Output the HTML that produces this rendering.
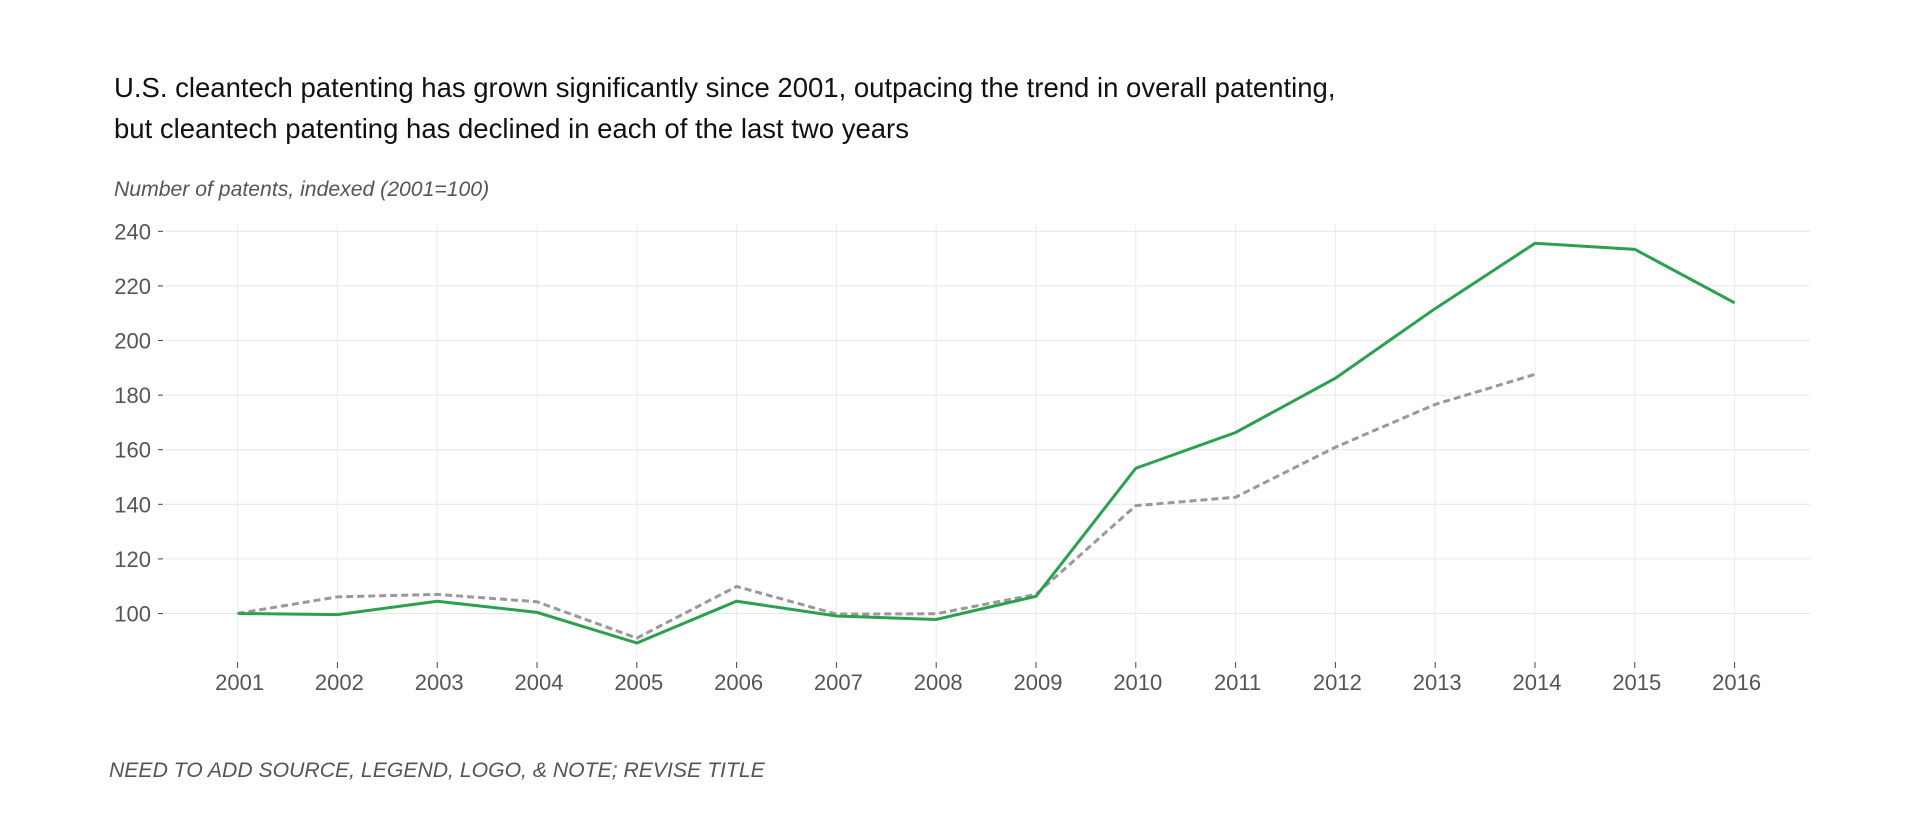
<!DOCTYPE html>
<html><head><meta charset="utf-8"><style>
body{margin:0;background:#fff;width:1920px;height:810px;overflow:hidden;font-family:"Liberation Sans",sans-serif}
</style></head><body>
<svg width="1920" height="810" font-family="Liberation Sans, sans-serif">
<text x="114" y="97" font-size="27.5" fill="#111">U.S. cleantech patenting has grown significantly since 2001, outpacing the trend in overall patenting,</text>
<text x="114" y="138" font-size="27.5" fill="#111">but cleantech patenting has declined in each of the last two years</text>
<text x="114" y="196" font-size="21.2" font-style="italic" fill="#555">Number of patents, indexed (2001=100)</text>
<g id="grid"></g><g id="axes"></g><g id="lines"></g>
<text x="109" y="777" font-size="21.2" font-style="italic" fill="#555">NEED TO ADD SOURCE, LEGEND, LOGO, &amp; NOTE; REVISE TITLE</text>
</svg>
<script>
const years=[2001,2002,2003,2004,2005,2006,2007,2008,2009,2010,2011,2012,2013,2014,2015,2016];
const cleantech=[100,99.6,104.5,100.4,89.2,104.5,99.1,97.8,106.3,153.2,166.3,186.2,211.7,235.6,233.4,213.8];
const overall=[100,106.1,107,104.3,91,109.9,99.8,99.9,107,139.5,142.6,160.9,176.6,187.6];
const yTicks=[100,120,140,160,180,200,220,240];
const NS='http://www.w3.org/2000/svg';
const x=yr=>237.6+(yr-2001)*99.8;
const y=v=>613.5-(v-100)*2.73;
function mk(tag,attrs,parent,txt){const e=document.createElementNS(NS,tag);for(const k in attrs)e.setAttribute(k,attrs[k]);if(txt!==undefined)e.textContent=txt;document.getElementById(parent).appendChild(e);return e;}
yTicks.forEach(t=>{
 const g=mk('line',{x1:165,x2:1810,y1:y(t),y2:y(t),stroke:'#e6e6e6','stroke-width':1},'grid');
 
 
 const tk=mk('line',{x1:158,x2:163,y1:y(t),y2:y(t),stroke:'#444','stroke-width':1},'axes');
 
 
 const l=mk('text',{x:151,y:y(t)+8,'text-anchor':'end','font-size':22,fill:'#555'},'axes',t);
 
 
});
years.forEach(yr=>{
 const g=mk('line',{x1:x(yr),x2:x(yr),y1:224,y2:658,stroke:'#ececec','stroke-width':1},'grid');
 
 
 const tk=mk('line',{x1:x(yr),x2:x(yr),y1:662,y2:668,stroke:'#444','stroke-width':1},'axes');
 
 
 const l=mk('text',{x:x(yr)+2,y:690,'text-anchor':'middle','font-size':22,fill:'#555'},'axes',yr);
 
 
});
const p2=overall.map((v,i)=>x(years[i])+','+y(v)).join(' ');
const o=mk('polyline',{points:p2,fill:'none',stroke:'#999','stroke-width':3,'stroke-dasharray':'7,4'},'lines');


const p1=cleantech.map((v,i)=>x(years[i])+','+y(v)).join(' ');
const c=mk('polyline',{points:p1,fill:'none',stroke:'#2ca050','stroke-width':3},'lines');


</script>
</body></html>
